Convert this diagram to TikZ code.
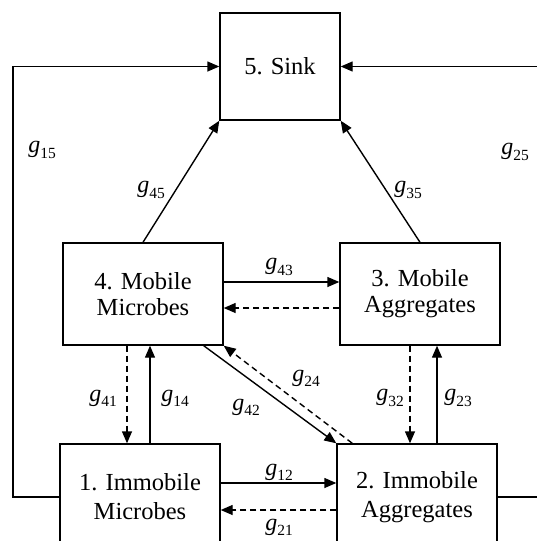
\documentclass[tikz,border=0pt]{standalone}
\usepackage{fontspec}
\setmainfont{Liberation Serif}
\usetikzlibrary{arrows.meta}
\newcommand{\gsub}[1]{\textit{g}\raisebox{-0.22em}{\fontsize{15.5}{15.5}\selectfont #1}}
\begin{document}
\begin{tikzpicture}[x=1pt,y=-1pt,
  box/.style={draw,line width=1.4pt,align=center,inner sep=0pt,
    minimum width=160pt,minimum height=102pt,
    font=\fontsize{24.5}{29}\selectfont},
  flow/.style={line width=1.4pt,-{Triangle[length=12pt,width=10pt]}},
  back/.style={flow,dash pattern=on 6pt off 4pt},
  lbl/.style={inner sep=0pt,font=\fontsize{24}{27}\selectfont}]
\useasboundingbox (0,0) rectangle (537,541);
\node[box,minimum width=120pt,minimum height=107pt] (sink) at (280,66.5) {5. Sink};
\node[box] (b4) at (143,294) {\raisebox{-3pt}{4. Mobile}\\Microbes};
\node[box] (b3) at (420,294) {\raisebox{-3pt}{3. Mobile}\\Aggregates};
\node[box,minimum height=106pt] (b1) at (140,497) {1. Immobile\\Microbes};
\node[box,minimum height=106pt] (b2) at (417,497) {2. Immobile\\Aggregates};
\coordinate (lx) at (13,0);
\coordinate (rx) at (548,0);
\coordinate (p41) at (127,0);
\coordinate (p14) at (150,0);
\coordinate (p32) at (410,0);
\coordinate (p23) at (437,0);
% outer loops
\draw[flow] (b1.west) -| (lx |- sink.west) -- (sink.west);
\draw[flow] (b2.east) -| (rx |- sink.east) -- (sink.east);
% to sink
\draw[flow] (b4.north) -- (sink.south west);
\draw[flow] (b3.north) -- (sink.south east);
% horizontal
\draw[flow] ([yshift=12pt]b4.east) -- ([yshift=12pt]b3.west);
\draw[back] ([yshift=-14pt]b3.west) -- ([yshift=-14pt]b4.east);
\draw[flow] ([yshift=14pt]b1.east) -- ([yshift=14pt]b2.west);
\draw[back] ([yshift=-13pt]b2.west) -- ([yshift=-13pt]b1.east);
% vertical
\draw[back] (b4.south -| p41) -- (b1.north -| p41);
\draw[flow] (b1.north -| p14) -- (b4.south -| p14);
\draw[back] (b3.south -| p32) -- (b2.north -| p32);
\draw[flow] (b2.north -| p23) -- (b3.south -| p23);
% diagonals
\draw[flow] ([xshift=-20pt]b4.south east) -- (b2.north west);
\draw[back] ([xshift=16pt]b2.north west) -- (b4.south east);
% labels
\node[lbl] (l15) at (42,150) {\gsub{15}};
\node[lbl] (l25) at (515,152) {\gsub{25}};
\node[lbl] (l45) at (151,190) {\gsub{45}};
\node[lbl] (l35) at (408,190) {\gsub{35}};
\node[lbl] (l43) at (279,267) {\gsub{43}};
\node[lbl] (l41) at (103,398) {\gsub{41}};
\node[lbl] (l14) at (175,398) {\gsub{14}};
\node[lbl] (l32) at (390,398) {\gsub{32}};
\node[lbl] (l23) at (458,398) {\gsub{23}};
\node[lbl] (l42) at (246,407) {\gsub{42}};
\node[lbl] (l24) at (306,378) {\gsub{24}};
\node[lbl] (l12) at (279,472) {\gsub{12}};
\node[lbl] (l21) at (279,527) {\gsub{21}};
\end{tikzpicture}
\end{document}
